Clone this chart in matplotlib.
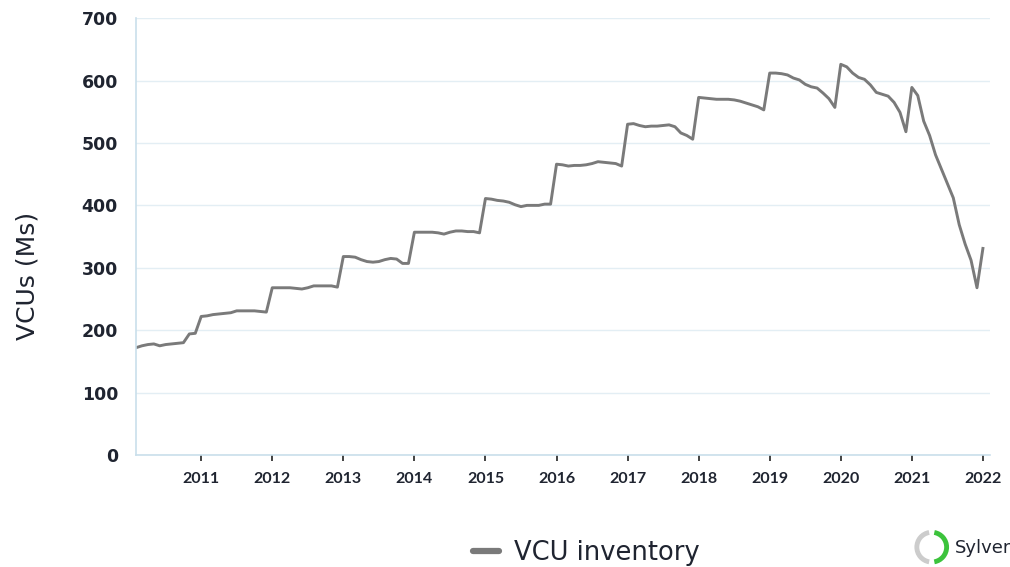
import numpy as np
import matplotlib.pyplot as plt
from matplotlib.patches import Arc
from matplotlib.lines import Line2D

plt.rcParams['font.family'] = ['DejaVu Sans']

# monthly VCU inventory (millions), Feb 2010 .. Jan 2022
inv_2010 = [172, 175, 177, 178, 175, 177, 178, 179, 180, 194, 195]  # Feb-Dec
inv_2011 = [222, 223, 225, 226, 227, 228, 231, 231, 231, 231, 230, 229]
inv_2012 = [268, 268, 268, 268, 267, 266, 268, 271, 271, 271, 271, 269]
inv_2013 = [318, 318, 317, 313, 310, 309, 310, 313, 315, 314, 307, 307]
inv_2014 = [357, 357, 357, 357, 356, 354, 357, 359, 359, 358, 358, 356]
inv_2015 = [411, 410, 408, 407, 405, 401, 398, 400, 400, 400, 402, 402]
inv_2016 = [466, 465, 463, 464, 464, 465, 467, 470, 469, 468, 467, 463]
inv_2017 = [530, 531, 528, 526, 527, 527, 528, 529, 526, 516, 512, 506]
inv_2018 = [573, 572, 571, 570, 570, 570, 569, 567, 564, 561, 558, 553]
inv_2019 = [612, 612, 611, 609, 604, 601, 594, 590, 588, 580, 571, 557]
inv_2020 = [626, 622, 612, 605, 602, 593, 581, 578, 575, 565, 549, 518]
inv_2021 = [589, 576, 535, 512, 481, 458, 435, 412, 369, 338, 312, 268]
inv_2022 = [331]  # Jan

inventory = (inv_2010 + inv_2011 + inv_2012 + inv_2013 + inv_2014 + inv_2015
             + inv_2016 + inv_2017 + inv_2018 + inv_2019 + inv_2020 + inv_2021
             + inv_2022)
t = 2010 + np.arange(1, 1 + len(inventory)) / 12.0

year_ticks = list(range(2011, 2023))
y_ticks = [0, 100, 200, 300, 400, 500, 600, 700]

text_dark = '#1f2430'
spine_col = '#c9dfeb'
grid_col = '#e3eef4'

fig = plt.figure(figsize=(10.1, 5.67), dpi=100)
ax = fig.add_axes([0.1347, 0.1975, 0.8453, 0.7705])

ax.plot(t, inventory, color='#7a7a7a', lw=2.1, solid_joinstyle='round')

ax.set_xlim(t[0], 2022.097)
ax.set_ylim(0, 700)
ax.set_yticks(y_ticks)
ax.set_xticks(year_ticks)
ax.set_xticklabels([str(y) for y in year_ticks], fontsize=11.5,
                   fontweight='bold', color=text_dark, family=['Lato', 'DejaVu Sans'])
ax.set_yticklabels([str(v) for v in y_ticks], fontsize=12.5,
                   fontweight='bold', color=text_dark)
ax.tick_params(axis='y', length=0, pad=13)
ax.tick_params(axis='x', length=4, width=1.2, color='#222222', pad=8)
ax.yaxis.grid(True, color=grid_col, lw=1.0)
ax.set_axisbelow(True)

for s in ['top', 'right']:
    ax.spines[s].set_visible(False)
for s in ['left', 'bottom']:
    ax.spines[s].set_color(spine_col)
    ax.spines[s].set_linewidth(1.2)

fig.text(28 / 1010, 1 - 276 / 567, 'VCUs (Ms)', rotation=90, fontsize=18,
         color=text_dark, ha='center', va='center')

handle = Line2D([], [], color='#7a7a7a', lw=4.5, solid_capstyle='round')
fig.legend([handle], ['VCU inventory'], loc='center', bbox_to_anchor=(0.581, 0.024),
           frameon=False, fontsize=18.5, handlelength=1.0, handletextpad=0.6,
           labelcolor=text_dark)

# logo mark in the bottom-right corner
logo = fig.add_axes([0.9, 0.0, 0.045, 0.07])
logo.set_xlim(-1.2, 1.2)
logo.set_ylim(-1.2, 1.2)
logo.set_aspect('equal')
logo.axis('off')
logo.add_patch(Arc((0, 0), 1.8, 1.8, theta1=100, theta2=260, color='#cccccc', lw=3.5))
logo.add_patch(Arc((0, 0), 1.8, 1.8, theta1=-80, theta2=80, color='#3cc33c', lw=3.5))
fig.text(0.945, 0.033, 'Sylver', fontsize=13, color=text_dark, va='center', ha='left')

fig.savefig('out.png', dpi=100)
